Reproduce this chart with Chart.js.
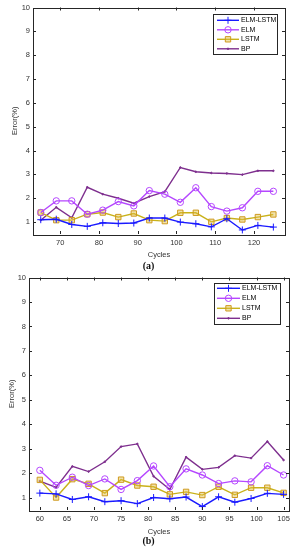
<!DOCTYPE html>
<html><head><meta charset="utf-8">
<script src="https://cdn.jsdelivr.net/npm/chart.js@4/dist/chart.umd.min.js"></script>
<style>
html,body{margin:0;padding:0;background:#fff;width:297px;height:550px;overflow:hidden}
.w{position:absolute;left:0;width:297px}
.cap{position:absolute;left:0;width:297px;text-align:center;font:bold 10px "Liberation Serif","Times New Roman",serif;color:#111;line-height:12px}
</style></head><body>
<div class="w" style="top:0;height:270px"><canvas id="ca" width="297" height="270"></canvas></div>
<div class="w" style="top:270px;height:280px"><canvas id="cb" width="297" height="280"></canvas></div>
<div class="cap" style="top:260px">(a)</div>
<div class="cap" style="top:535px">(b)</div>
<script>
// ---- data ----
const seriesNames = ['ELM-LSTM', 'ELM', 'LSTM', 'BP'];
const yTicks = [1, 2, 3, 4, 5, 6, 7, 8, 9, 10];

const cyclesA = [65, 69, 73, 77, 81, 85, 89, 93, 97, 101, 105, 109, 113, 117, 121, 125];
const elmLstmA = [1.10, 1.12, 0.90, 0.82, 0.97, 0.94, 0.96, 1.17, 1.17, 1.00, 0.93, 0.80, 1.14, 0.67, 0.86, 0.79];
const elmA     = [1.40, 1.89, 1.89, 1.33, 1.50, 1.86, 1.68, 2.32, 2.17, 1.83, 2.44, 1.65, 1.46, 1.60, 2.29, 2.29];
const lstmA    = [1.40, 1.08, 1.08, 1.33, 1.40, 1.21, 1.36, 1.08, 1.04, 1.39, 1.39, 1.01, 1.17, 1.11, 1.21, 1.32];
const bpA      = [1.08, 1.62, 1.18, 2.46, 2.17, 2.00, 1.79, 2.07, 2.28, 3.29, 3.11, 3.06, 3.04, 2.99, 3.15, 3.15];
const xTicksA = [70, 80, 90, 100, 110, 120];

const cyclesB = [60, 63, 66, 69, 72, 75, 78, 81, 84, 87, 90, 93, 96, 99, 102, 105];
const elmLstmB = [1.19, 1.16, 0.93, 1.04, 0.84, 0.88, 0.76, 1.01, 0.96, 1.03, 0.64, 1.04, 0.82, 0.97, 1.18, 1.14];
const elmB     = [2.12, 1.51, 1.84, 1.50, 1.77, 1.34, 1.70, 2.30, 1.45, 2.18, 1.93, 1.58, 1.69, 1.65, 2.31, 1.93];
const lstmB    = [1.73, 1.01, 1.76, 1.57, 1.19, 1.74, 1.50, 1.45, 1.14, 1.24, 1.11, 1.45, 1.12, 1.41, 1.41, 1.20];
const bpB      = [1.68, 1.42, 2.28, 2.07, 2.47, 3.09, 3.20, 1.88, 1.34, 2.66, 2.16, 2.24, 2.72, 2.62, 3.30, 2.54];
const xTicksB = [60, 65, 70, 75, 80, 85, 90, 95, 100, 105];

// ---- styles ----
const FONT = '"Liberation Sans", Arial, sans-serif';
const styles = [
  { borderColor: '#1a1aff', pointStyle: 'cross', pointRadius: 3.5, pointBackgroundColor: 'rgba(0,0,0,0)', pointBorderColor: '#1a1aff' },
  { borderColor: '#b547ff', pointStyle: 'circle', pointRadius: 3.2, pointBackgroundColor: 'rgba(0,0,0,0)', pointBorderColor: '#b547ff' },
  { borderColor: '#c9b21a', pointStyle: 'rect', pointRadius: 3.8, pointBackgroundColor: 'rgba(225,190,70,0.45)', pointBorderColor: '#cf9a1e' },
  { borderColor: '#7e2f8e', pointStyle: 'circle', pointRadius: 0.8, pointBackgroundColor: '#7e2f8e', pointBorderColor: '#7e2f8e' }
];

function mkPts(xs, ys) { return xs.map((x, i) => ({ x: x, y: ys[i] })); }

function drawMarker(ctx, style, r, x, y) {
  ctx.beginPath();
  if (style === 'cross') {
    ctx.moveTo(x - r, y); ctx.lineTo(x + r, y); ctx.moveTo(x, y - r); ctx.lineTo(x, y + r);
    ctx.stroke(); return;
  }
  if (style === 'rect') {
    const s = r * Math.SQRT1_2;
    ctx.rect(x - s, y - s, 2 * s, 2 * s);
  } else {
    ctx.arc(x, y, r, 0, Math.PI * 2);
  }
  ctx.fill(); ctx.stroke();
}

const framePlugin = {
  id: 'frame',
  afterDatasetsDraw(chart) {
    const { ctx, chartArea: a } = chart;
    const xs = chart.scales.x, ys = chart.scales.y;
    ctx.save();
    ctx.strokeStyle = '#262626'; ctx.lineWidth = 1;
    ctx.strokeRect(Math.round(a.left) + 0.5, Math.round(a.top) + 0.5, Math.round(a.right - a.left), Math.round(a.bottom - a.top));
    ctx.beginPath();
    xs.ticks.forEach(t => {
      const p = Math.round(xs.getPixelForValue(t.value)) + 0.5;
      ctx.moveTo(p, a.bottom); ctx.lineTo(p, a.bottom - 3);
      ctx.moveTo(p, a.top); ctx.lineTo(p, a.top + 3);
    });
    ys.ticks.forEach(t => {
      const p = Math.round(ys.getPixelForValue(t.value)) + 0.5;
      ctx.moveTo(a.left, p); ctx.lineTo(a.left + 3, p);
      ctx.moveTo(a.right, p); ctx.lineTo(a.right - 3, p);
    });
    ctx.stroke();
    ctx.restore();
  },
  afterDraw(chart, args, o) {
    const ctx = chart.ctx;
    ctx.save();
    ctx.fillStyle = '#fff';
    ctx.fillRect(o.x, o.y, o.w, o.h);
    ctx.strokeStyle = '#262626'; ctx.lineWidth = 1;
    ctx.strokeRect(o.x + 0.5, o.y + 0.5, o.w, o.h);
    chart.data.datasets.forEach((ds, i) => {
      const y = o.y + o.row0 + i * o.dy;
      ctx.strokeStyle = ds.borderColor; ctx.lineWidth = ds.borderWidth;
      ctx.beginPath(); ctx.moveTo(o.x + o.l0, y); ctx.lineTo(o.x + o.l1, y); ctx.stroke();
      ctx.strokeStyle = ds.pointBorderColor; ctx.fillStyle = ds.pointBackgroundColor; ctx.lineWidth = 1;
      drawMarker(ctx, ds.pointStyle, ds.pointRadius, o.x + (o.l0 + o.l1) / 2, y);
      ctx.fillStyle = '#000'; ctx.font = '7px ' + FONT; ctx.textBaseline = 'middle'; ctx.textAlign = 'left';
      ctx.fillText(ds.label, o.x + o.tx, y);
    });
    ctx.restore();
  }
};

function makeChart(id, xs, series, xTicks, L) {
  const datasets = series.map((ys, i) => Object.assign({
    label: seriesNames[i], data: mkPts(xs, ys), borderWidth: 1.4, pointBorderWidth: 1,
    tension: 0, fill: false
  }, styles[i]));
  return new Chart(document.getElementById(id), {
    type: 'line',
    data: { datasets: datasets },
    plugins: [framePlugin],
    options: {
      responsive: false, animation: false, events: [],
      layout: { padding: { top: L.top, right: L.right, left: 0, bottom: 0 } },
      plugins: { legend: { display: false }, tooltip: { enabled: false }, frame: L.legend },
      scales: {
        x: {
          type: 'linear', min: L.xmin, max: L.xmax,
          afterBuildTicks: s => { s.ticks = xTicks.map(v => ({ value: v })); },
          afterFit: s => { s.height = L.xh; },
          grid: { display: false, drawTicks: false }, border: { display: false },
          ticks: { padding: L.xtp, color: '#333', font: { family: FONT, size: 7.5 }, maxRotation: 0, autoSkip: false },
          title: { display: true, text: 'Cycles', color: '#333', font: { family: FONT, size: 7.5 }, padding: { top: 0, bottom: L.xtitle } }
        },
        y: {
          type: 'linear', min: 0.5, max: 10,
          afterBuildTicks: s => { s.ticks = yTicks.map(v => ({ value: v })); },
          afterFit: s => { s.width = L.yw; },
          grid: { display: false, drawTicks: false }, border: { display: false },
          ticks: { padding: 3, color: '#333', font: { family: FONT, size: 7.5 }, autoSkip: false },
          title: { display: true, text: 'Error(%)', color: '#333', font: { family: FONT, size: 7.5 }, padding: { top: L.ytitle, bottom: 0 } }
        }
      }
    }
  });
}

makeChart('ca', cyclesA, [elmLstmA, elmA, lstmA, bpA], xTicksA, {
  top: 7, right: 12, xh: 36, yw: 33, xmin: 63, xmax: 128, xtp: 4, xtitle: 10.5, ytitle: 10.5,
  legend: { x: 213, y: 14, w: 64, h: 40, row0: 6.3, dy: 9.5, l0: 4, l1: 26, tx: 28 }
});
makeChart('cb', cyclesB, [elmLstmB, elmB, lstmB, bpB], xTicksB, {
  top: 5.5, right: 8, xh: 40, yw: 29, xmin: 58, xmax: 106, xtp: 4, xtitle: 13.5, ytitle: 7,
  legend: { x: 214, y: 13, w: 66, h: 41, row0: 5.3, dy: 10, l0: 3, l1: 26, tx: 28 }
});
</script>
</body></html>
